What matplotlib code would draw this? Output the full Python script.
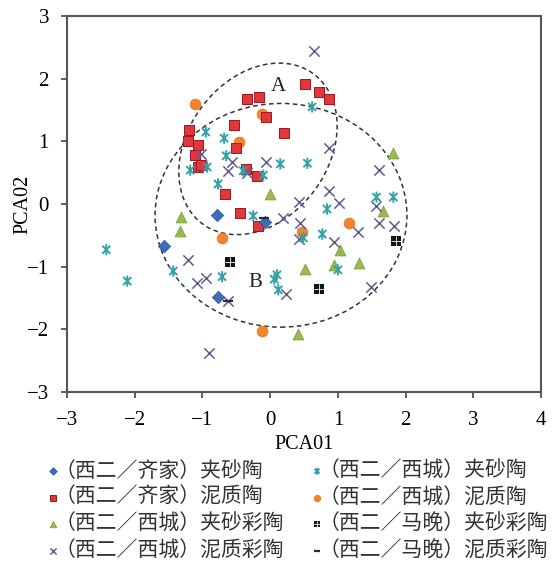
import matplotlib
matplotlib.use("Agg")
import matplotlib.pyplot as plt
from matplotlib.path import Path
from matplotlib.patches import Ellipse

# ---------------- data ----------------
qj_jsp_x = [-0.78, -1.57, -0.77, -0.07]
qj_jsp_y = [-0.18, -0.67, -1.48, -0.29]

qj_nz_x = [0.52, 0.72, 0.87, -0.34, -0.16, -0.06, -0.53, 0.21, -1.20, -1.21,
           -1.06, -1.11, -1.06, -1.02, -0.50, -0.35, -0.19, -0.66, -0.44, -0.18]
qj_nz_y = [1.91, 1.79, 1.67, 1.67, 1.71, 1.39, 1.26, 1.13, 1.18, 1.00,
           0.94, 0.78, 0.59, 0.62, 0.89, 0.56, 0.45, 0.16, -0.14, -0.35]

xc_jscai_x = [0.00, 1.82, 1.67, 1.03, 0.95, 1.31, 0.52, 0.41, -1.31, -1.33]
xc_jscai_y = [0.16, 0.81, -0.11, -0.73, -0.97, -0.94, -1.04, -2.07, -0.21, -0.43]

xc_nzcai_x = [-1.02, -0.56, -0.62, -0.06, -0.34, 0.43, 0.65, 0.87, 1.61, 0.87,
              1.02, 1.57, 0.44, 0.43, 1.29, 0.95, 1.61, 1.83, 1.49, 0.19,
              0.24, -1.21, -1.08, -0.95, -0.62, -0.90]
xc_nzcai_y = [0.80, 0.67, 0.53, 0.67, 0.49, 0.03, 2.44, 0.89, 0.54, 0.21,
              0.02, -0.03, -0.30, -0.56, -0.45, -0.61, -0.30, -0.35, -1.32, -0.22,
              -1.44, -0.89, -1.26, -1.18, -1.55, -2.38]

xc_jsp_x = [-2.42, -2.11, -1.43, -0.71, -0.25, 0.10, 0.06, 0.12, 0.49, 0.77,
            0.84, 1.57, 1.82, 1.00, -0.95, -0.68, -0.65, -1.18, -0.93, -0.40,
            -0.10, -0.77, 0.15, 0.55, 0.62]
xc_jsp_y = [-0.73, -1.23, -1.07, -1.16, -0.19, -1.13, -1.20, -1.37, -0.54, -0.48,
            -0.08, 0.11, 0.11, -1.05, 1.15, 1.05, 0.77, 0.54, 0.59, 0.53,
            0.46, 0.32, 0.64, 0.65, 1.55]

xc_nz_x = [-1.11, -0.12, -0.46, -0.71, 0.47, 1.17, -0.12]
xc_nz_y = [1.59, 1.44, 0.99, -0.54, -0.45, -0.30, -2.03]

mw_jscai_x = [-0.59, 1.86, 0.72]
mw_jscai_y = [-0.93, -0.59, -1.36]

mw_nzcai_x = [-0.09, -0.62]
mw_nzcai_y = [-0.22, -1.55]

labels = ["（西二／齐家）夹砂陶", "（西二／齐家）泥质陶", "（西二／西城）夹砂彩陶",
          "（西二／西城）泥质彩陶", "（西二／西城）夹砂陶", "（西二／西城）泥质陶",
          "（西二／马晚）夹砂彩陶", "（西二／马晚）泥质彩陶"]

xticks = [-3, -2, -1, 0, 1, 2, 3, 4]
yticks = [-3, -2, -1, 0, 1, 2, 3]

# ellipse groups: center x, center y, width, height, angle
ellA = (-0.18, 0.88, 2.91, 2.12, 60.3)
ellB = (0.16, -0.18, 3.72, 3.57, 0.0)

# ---------------- markers ----------------
M, L = Path.MOVETO, Path.LINETO
star_path = Path([(0, -1), (0, 1), (-0.72, -0.72), (0.72, 0.72), (-0.72, 0.72), (0.72, -0.72)],
                 [M, L, M, L, M, L])

serif = "Liberation Serif"

fig = plt.figure(figsize=(5.57, 5.64), dpi=100)
ax = fig.add_axes([0.1203, 0.3050, 0.8510, 0.6666])

h_orange = ax.scatter(xc_nz_x, xc_nz_y, s=60, marker='o', color='#F4832A',
                      edgecolor='#E07020', linewidth=0.5, zorder=2)
h_red = ax.scatter(qj_nz_x, qj_nz_y, s=58, marker='s', color='#E2353C',
                   edgecolor='#9A1A1E', linewidth=0.7, zorder=3)
h_blue = ax.scatter(qj_jsp_x, qj_jsp_y, s=40, marker='D', color='#3C6DB8',
                    edgecolor='#2A5090', linewidth=0.5, zorder=3)
h_green = ax.scatter(xc_jscai_x, xc_jscai_y, s=62, marker='^', color='#98B954',
                     edgecolor='#7A9A38', linewidth=0.5, zorder=3)
h_purple = ax.scatter(xc_nzcai_x, xc_nzcai_y, s=55, marker='x', color='#625C8E',
                      linewidth=1.1, zorder=3)
h_teal = ax.scatter(xc_jsp_x, xc_jsp_y, s=65, marker=star_path, facecolor='none',
                    edgecolor='#34A2A6', linewidth=1.4, zorder=4)
h_black = ax.scatter(mw_jscai_x, mw_jscai_y, s=62, marker='s', color='#151515',
                     linewidth=0, zorder=4)
h_black_plus = ax.scatter(mw_jscai_x, mw_jscai_y, s=62, marker='+', color='white',
                          linewidth=0.6, zorder=5)
h_dash = ax.scatter(mw_nzcai_x, mw_nzcai_y, s=50, marker='_', color='#2A2A40',
                    linewidth=1.6, zorder=4)

for cx, cy, w, h, ang in (ellA, ellB):
    ax.add_patch(Ellipse((cx, cy), w, h, angle=ang, fill=False, edgecolor='#333333',
                         linestyle=(0, (3, 2.2)), linewidth=1.1, zorder=1))

ax.text(0.12, 1.88, "A", fontsize=15, family=serif, ha='center', va='center', color='#222222')
ax.text(-0.22, -1.26, "B", fontsize=15, family=serif, ha='center', va='center', color='#222222')

ax.set_xlim(-3, 4)
ax.set_ylim(-3, 3)
ax.set_xticks(xticks)
ax.set_yticks(yticks)
ax.set_xticklabels([("\u2212" + str(-t)) if t < 0 else str(t) for t in xticks],
                   family=serif, fontsize=15)
ax.set_yticklabels([("\u2212" + str(-t)) if t < 0 else str(t) for t in yticks],
                   family=serif, fontsize=15)
ax.tick_params(direction='out', length=4, width=1.2, color='#444444')
ax.tick_params(axis='x', pad=10)
ax.tick_params(axis='y', pad=9)
for sp in ax.spines.values():
    sp.set_linewidth(1.5)
    sp.set_color('#555555')
ax.set_xlabel("PCA01", family=serif, fontsize=14.5)
ax.set_ylabel("PCA02", family=serif, fontsize=14.5)
ax.xaxis.set_label_coords(0.5, -0.114)
ax.yaxis.set_label_coords(-0.072, 0.5)

handles = [h_blue, h_red, h_green, h_purple, h_teal, h_orange, (h_black, h_black_plus), h_dash]
leg = fig.legend(handles, labels, loc='upper left', bbox_to_anchor=(0.084, 0.185),
                 ncol=2, frameon=False, markerscale=0.6, handlelength=0.6,
                 handletextpad=-0.25, columnspacing=1.3, labelspacing=0.22,
                 borderpad=0, borderaxespad=0,
                 prop={'family': ['Noto Sans CJK SC', 'DejaVu Sans'], 'size': 15})
for t in leg.get_texts():
    t.set_color('#333333')

fig.savefig("out.png", dpi=100)
